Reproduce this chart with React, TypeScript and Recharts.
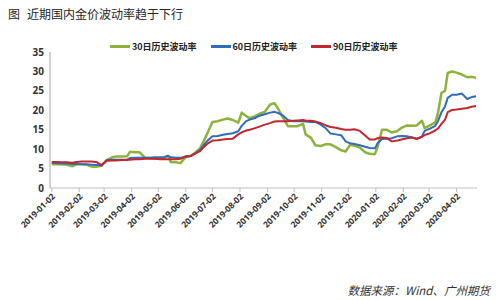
import React from 'react';
import { LineChart, Line, XAxis, YAxis } from 'recharts';

const dates = [
  '2019-01-02','2019-01-08','2019-01-13','2019-01-19','2019-01-25','2019-01-30','2019-02-05','2019-02-10','2019-02-16','2019-02-22',
  '2019-02-27','2019-03-05','2019-03-11','2019-03-16','2019-03-22','2019-03-28','2019-03-31','2019-04-06','2019-04-11','2019-04-17',
  '2019-04-22','2019-04-28','2019-05-04','2019-05-09','2019-05-13','2019-05-16','2019-05-22','2019-05-27','2019-06-02','2019-06-08',
  '2019-06-13','2019-06-18','2019-06-22','2019-06-27','2019-07-02','2019-07-08','2019-07-14','2019-07-19','2019-07-25','2019-07-31',
  '2019-08-04','2019-08-09','2019-08-13','2019-08-19','2019-08-24','2019-08-30','2019-09-05','2019-09-10','2019-09-14','2019-09-19',
  '2019-09-25','2019-10-01','2019-10-06','2019-10-12','2019-10-15','2019-10-21','2019-10-26','2019-11-01','2019-11-07','2019-11-12',
  '2019-11-18','2019-11-24','2019-11-29','2019-12-04','2019-12-09','2019-12-15','2019-12-21','2019-12-26','2020-01-01','2020-01-04',
  '2020-01-09','2020-01-14','2020-01-20','2020-01-26','2020-01-31','2020-02-06','2020-02-12','2020-02-17','2020-02-23','2020-02-26',
  '2020-03-03','2020-03-09','2020-03-12','2020-03-16','2020-03-20','2020-03-23','2020-03-28','2020-04-02','2020-04-08','2020-04-14',
  '2020-04-19','2020-04-24',
];

const vol30 = [
  6.1, 6.2, 6.1, 6.0, 5.6, 6.1, 6.1, 6.0, 5.5, 5.5,
  5.7, 7.2, 7.9, 8.1, 8.1, 8.2, 9.3, 9.2, 9.2, 7.8,
  7.7, 7.6, 7.6, 7.7, 8.3, 6.7, 6.6, 6.4, 8.0, 8.3,
  9.2, 10.2, 12.0, 14.5, 17.0, 17.2, 17.6, 17.9, 17.5, 16.8,
  19.4, 18.5, 18.0, 18.5, 19.1, 19.6, 21.5, 21.8, 20.4, 18.3,
  15.9, 15.9, 15.9, 16.5, 13.8, 12.9, 11.0, 10.8, 11.3, 11.2,
  10.5, 9.7, 9.4, 11.1, 10.9, 10.4, 9.2, 8.8, 8.7, 10.6,
  15.0, 15.0, 14.3, 14.6, 15.5, 16.1, 16.0, 16.1, 17.3, 15.4,
  16.1, 16.9, 19.2, 24.5, 25.0, 29.6, 30.0, 29.7, 29.2, 28.5,
  28.6, 28.4,
];

const vol60 = [
  6.5, 6.4, 6.3, 6.3, 6.2, 6.2, 6.1, 6.1, 6.0, 5.9,
  5.8, 7.2, 7.3, 7.3, 7.3, 7.3, 7.7, 7.8, 7.8, 7.8,
  7.8, 7.9, 7.9, 8.0, 8.3, 7.9, 7.8, 7.8, 8.0, 8.3,
  9.0, 9.8, 11.0, 12.3, 13.3, 13.4, 13.7, 13.9, 14.1, 14.6,
  16.0, 17.2, 17.6, 18.0, 18.6, 19.0, 19.4, 19.6, 19.3, 18.7,
  17.5, 17.2, 17.2, 17.2, 17.1, 17.0, 17.0, 16.3, 15.3, 14.0,
  13.8, 13.6, 12.0, 11.5, 11.3, 11.0, 10.6, 10.3, 10.2, 11.5,
  12.6, 12.7, 12.8, 13.3, 13.4, 13.3, 13.0, 12.7, 13.2, 14.7,
  15.3, 16.0, 17.2, 19.5, 21.0, 23.2, 24.0, 24.0, 24.3, 22.9,
  23.4, 23.6,
];

const vol90 = [
  6.7, 6.7, 6.6, 6.6, 6.5, 6.7, 6.8, 6.8, 6.8, 6.6,
  5.9, 7.0, 7.1, 7.1, 7.2, 7.2, 7.3, 7.4, 7.4, 7.5,
  7.5, 7.5, 7.4, 7.4, 7.4, 7.4, 7.4, 7.5, 8.2, 8.3,
  8.9, 9.5, 10.5, 11.5, 12.2, 12.3, 12.5, 12.6, 12.7, 13.8,
  14.3, 14.8, 15.0, 15.4, 15.8, 16.3, 16.7, 17.1, 17.2, 17.2,
  17.2, 17.3, 17.4, 17.5, 17.4, 17.3, 17.1, 16.7, 16.1, 15.7,
  15.5, 15.2, 15.0, 15.0, 15.1, 14.7, 13.5, 12.5, 12.5, 12.8,
  13.0, 12.9, 12.0, 12.2, 12.5, 12.8, 13.0, 12.6, 13.2, 13.6,
  14.1, 14.8, 15.3, 16.5, 17.6, 19.5, 20.1, 20.2, 20.4, 20.6,
  20.9, 21.1,
];

const xTickLabels = [
  '2019-01-02','2019-02-02','2019-03-02','2019-04-02','2019-05-02','2019-06-02','2019-07-02','2019-08-02',
  '2019-09-02','2019-10-02','2019-11-02','2019-12-02','2020-01-02','2020-02-02','2020-03-02','2020-04-02',
];
const yTicks = [0, 5, 10, 15, 20, 25, 30, 35];
const seriesNames = ['30日历史波动率', '60日历史波动率', '90日历史波动率'];
const seriesColors = ['#8DB33C', '#2E6CBD', '#C1272D'];
const titleMark = '图';
const titleText = '近期国内金价波动率趋于下行';
const sourceText = '数据来源：Wind、广州期货';
const domainStart = '2018-12-31';
const domainEnd = '2020-04-25';

const toTs = (s: string) => Date.parse(s + 'T00:00:00Z');

const data = dates.map((d, i) => ({ t: toTs(d), v30: vol30[i], v60: vol60[i], v90: vol90[i] }));

const cjk = '"Noto Sans CJK SC", "Noto Sans", sans-serif';
const num = '"Open Sans", "Noto Sans", sans-serif';

const XTick = (props: any) => {
  const { x, y, payload } = props;
  const label = new Date(payload.value).toISOString().slice(0, 10);
  const X = x + 4;
  const Y = y + 3;
  return (
    <text x={X} y={Y} transform={`rotate(-45 ${X} ${Y})`} textAnchor="end" fontSize={8.5} fontWeight="bold" fill="#333" fontFamily={num}>
      {label}
    </text>
  );
};

export default function App() {
  return (
    <div style={{ position: 'absolute', left: 0, top: 0, width: 499, height: 300, background: '#fff', overflow: 'hidden' }}>
      <div style={{ position: 'absolute', left: 8, top: 7, fontSize: 12, lineHeight: '14px', fontFamily: cjk, color: '#262626', whiteSpace: 'nowrap' }}>
        <span>{titleMark}</span>
        <span style={{ marginLeft: 7 }}>{titleText}</span>
      </div>
      {seriesNames.map((n, i) => (
        <div key={n} style={{ position: 'absolute', left: 110 + i * 100.5, top: 39, height: 14, display: 'flex', alignItems: 'center', whiteSpace: 'nowrap' }}>
          <div style={{ width: 20, height: 3, background: seriesColors[i], marginRight: 2 }} />
          <span style={{ fontSize: 9, fontWeight: 'bold', fontFamily: cjk, color: '#222' }}>{n}</span>
        </div>
      ))}
      <div style={{ position: 'absolute', right: 9, top: 283, fontSize: 11.5, lineHeight: '14px', fontStyle: 'italic', fontFamily: cjk, color: '#333', whiteSpace: 'nowrap' }}>
        {sourceText}
      </div>
      <div style={{ position: 'absolute', left: 0, top: 0 }}>
        <LineChart width={499} height={300} data={data} margin={{ top: 52, right: 22, left: 0, bottom: 82 }}>
          <XAxis
            dataKey="t"
            type="number"
            domain={[toTs(domainStart), toTs(domainEnd)]}
            ticks={xTickLabels.map(toTs)}
            allowDataOverflow
            interval={0}
            tick={<XTick />}
            tickSize={4}
            tickMargin={2}
            axisLine={{ stroke: '#BFBFBF' }}
            tickLine={{ stroke: '#BFBFBF' }}
          />
          <YAxis
            width={50}
            domain={[0, 35]}
            ticks={yTicks}
            interval={0}
            tickLine={false}
            tickSize={4}
            tickMargin={2}
            axisLine={{ stroke: '#A6A6A6' }}
            tick={{ fontSize: 10, fontWeight: 'bold', fill: '#333', fontFamily: num }}
          />
          <Line dataKey="v30" stroke={seriesColors[0]} strokeWidth={2.5} dot={false} isAnimationActive={false} strokeLinejoin="round" />
          <Line dataKey="v60" stroke={seriesColors[1]} strokeWidth={2} dot={false} isAnimationActive={false} strokeLinejoin="round" />
          <Line dataKey="v90" stroke={seriesColors[2]} strokeWidth={2} dot={false} isAnimationActive={false} strokeLinejoin="round" />
        </LineChart>
      </div>
    </div>
  );
}
